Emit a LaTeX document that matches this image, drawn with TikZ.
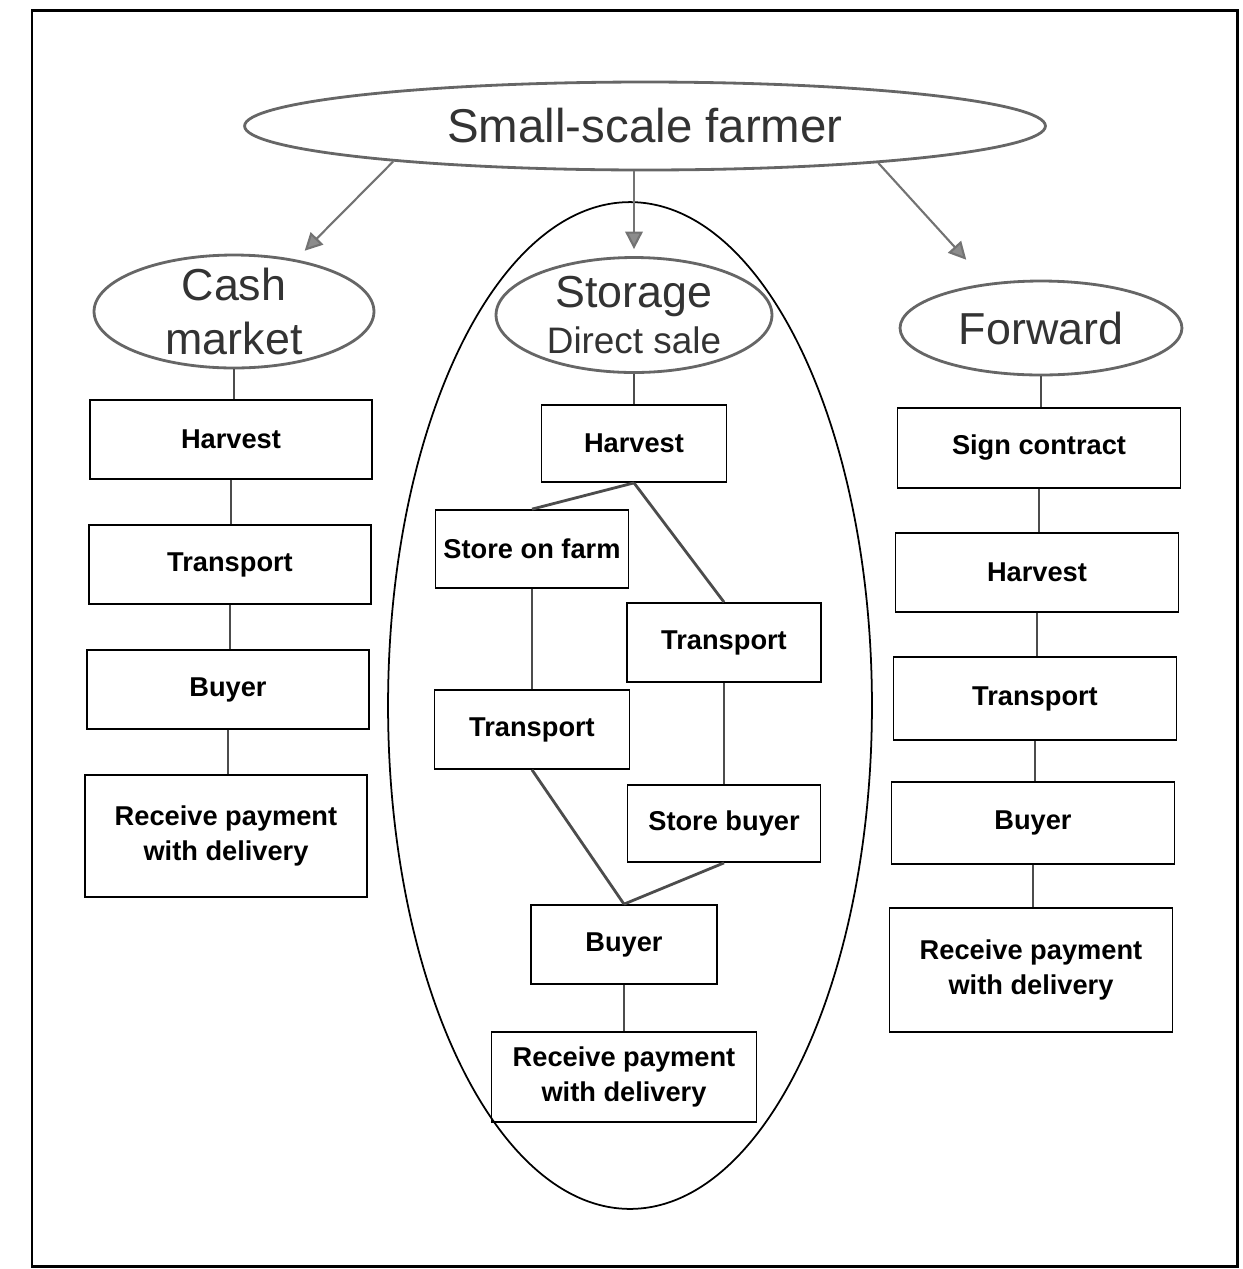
\documentclass[tikz,border=0pt]{standalone}
\usepackage{fontspec}
\setmainfont{Liberation Sans}
\usetikzlibrary{shapes.geometric,arrows.meta}
\begin{document}
\begin{tikzpicture}[x=0.02cm,y=-0.02cm]
        % Styles
        \tikzstyle{box}=[draw,line width=1pt,inner sep=0pt,align=center,font=\fontsize{15.5}{19.5}\selectfont\bfseries]
        \tikzstyle{oval}=[ellipse,draw=black!60,line width=1.6pt,inner sep=0pt,text=black!80,font=\fontsize{25.5}{31}\selectfont]
        \tikzstyle{ovaltext}=[align=center,text=black!80,font=\fontsize{25.5}{31}\selectfont]
        \tikzstyle{link}=[line width=1.6pt,draw=black!70]
        \tikzstyle{branch}=[line width=1.2pt,draw=black!55,-{Triangle[length=10pt,width=10pt,fill=black!45]}]
        %The graphic
        \useasboundingbox (0,0) rectangle (1242,1269);
        \draw[line width=1.7pt] (32,10) rectangle (1237,1266);
        %storage group
        \node[ellipse,draw,line width=1pt,inner sep=0pt,minimum width=9.68cm,minimum height=20.14cm] (group) at (630,705.5) {};
        %ovals
        \node[oval,minimum width=16.02cm,minimum height=1.76cm,font=\fontsize{27}{31}\selectfont] (farmer) at (645,126) {Small-scale farmer};
        \node[oval,minimum width=5.6cm,minimum height=2.26cm] (cash) at (234,311.5) {};
        \node[ovaltext] (cashtext) at (cash) {Cash\\market};
        \node[oval,fill=white,minimum width=5.52cm,minimum height=2.3cm] (storage) at (634,315) {};
        \node[ovaltext,font=\fontsize{25.5}{26}\selectfont] (storagetext) at (storage) {Storage\\{\fontsize{21}{26}\selectfont Direct sale}};
        \node[oval,minimum width=5.64cm,minimum height=1.88cm] (forward) at (1041,328) {Forward};
        %arrows
        \draw[branch,shorten >=7pt] (farmer.188) -- (cash.40);
        \draw[branch,shorten >=4pt] (storage |- farmer.south) -- (storage.north);
        \draw[branch,shorten >=18pt] (farmer.351) -- (forward.140);
        %cash market
        \node[box,minimum width=5.64cm,minimum height=1.58cm] (lharv) at (231,439.5) {Harvest};
        \node[box,minimum width=5.64cm,minimum height=1.58cm] (ltrans) at (230,564.5) {Transport};
        \node[box,minimum width=5.64cm,minimum height=1.58cm] (lbuy) at (228,689.5) {Buyer};
        \node[box,minimum width=5.64cm,minimum height=2.44cm] (lpay) at (226,836) {Receive payment\\with delivery};
        \foreach \a/\b in {cash/lharv,lharv/ltrans,ltrans/lbuy,lbuy/lpay}
            \draw[link] (\a.south) -- (\a.south |- \b.north);
        %storage
        \node[box,minimum width=3.7cm,minimum height=1.54cm] (mharv) at (634,443.5) {Harvest};
        \node[box,minimum width=3.86cm,minimum height=1.56cm] (mstore) at (532,549) {Store on farm};
        \node[box,minimum width=3.88cm,minimum height=1.58cm] (mtransr) at (724,642.5) {Transport};
        \node[box,minimum width=3.9cm,minimum height=1.58cm] (mtransl) at (532,729.5) {Transport};
        \node[box,minimum width=3.86cm,minimum height=1.54cm] (mstoreb) at (724,823.5) {Store buyer};
        \node[box,minimum width=3.72cm,minimum height=1.58cm] (mbuy) at (624,944.5) {Buyer};
        \node[box,minimum width=5.3cm,minimum height=1.8cm] (mpay) at (624,1077) {Receive payment\\with delivery};
        \foreach \a/\b in {storage/mharv,mharv/mstore,mharv/mtransr,mstore/mtransl,mtransr/mstoreb,mtransl/mbuy,mstoreb/mbuy,mbuy/mpay}
            \draw[link] (\a.south) -- (\b.north);
        %forward
        \node[box,minimum width=5.66cm,minimum height=1.6cm] (rsign) at (1039,448) {Sign contract};
        \node[box,minimum width=5.66cm,minimum height=1.58cm] (rharv) at (1037,572.5) {Harvest};
        \node[box,minimum width=5.66cm,minimum height=1.66cm] (rtrans) at (1035,698.5) {Transport};
        \node[box,minimum width=5.66cm,minimum height=1.64cm] (rbuy) at (1033,823) {Buyer};
        \node[box,minimum width=5.66cm,minimum height=2.48cm] (rpay) at (1031,970) {Receive payment\\with delivery};
        \foreach \a/\b in {forward/rsign,rsign/rharv,rharv/rtrans,rtrans/rbuy,rbuy/rpay}
            \draw[link] (\a.south) -- (\a.south |- \b.north);
\end{tikzpicture}
\end{document}
